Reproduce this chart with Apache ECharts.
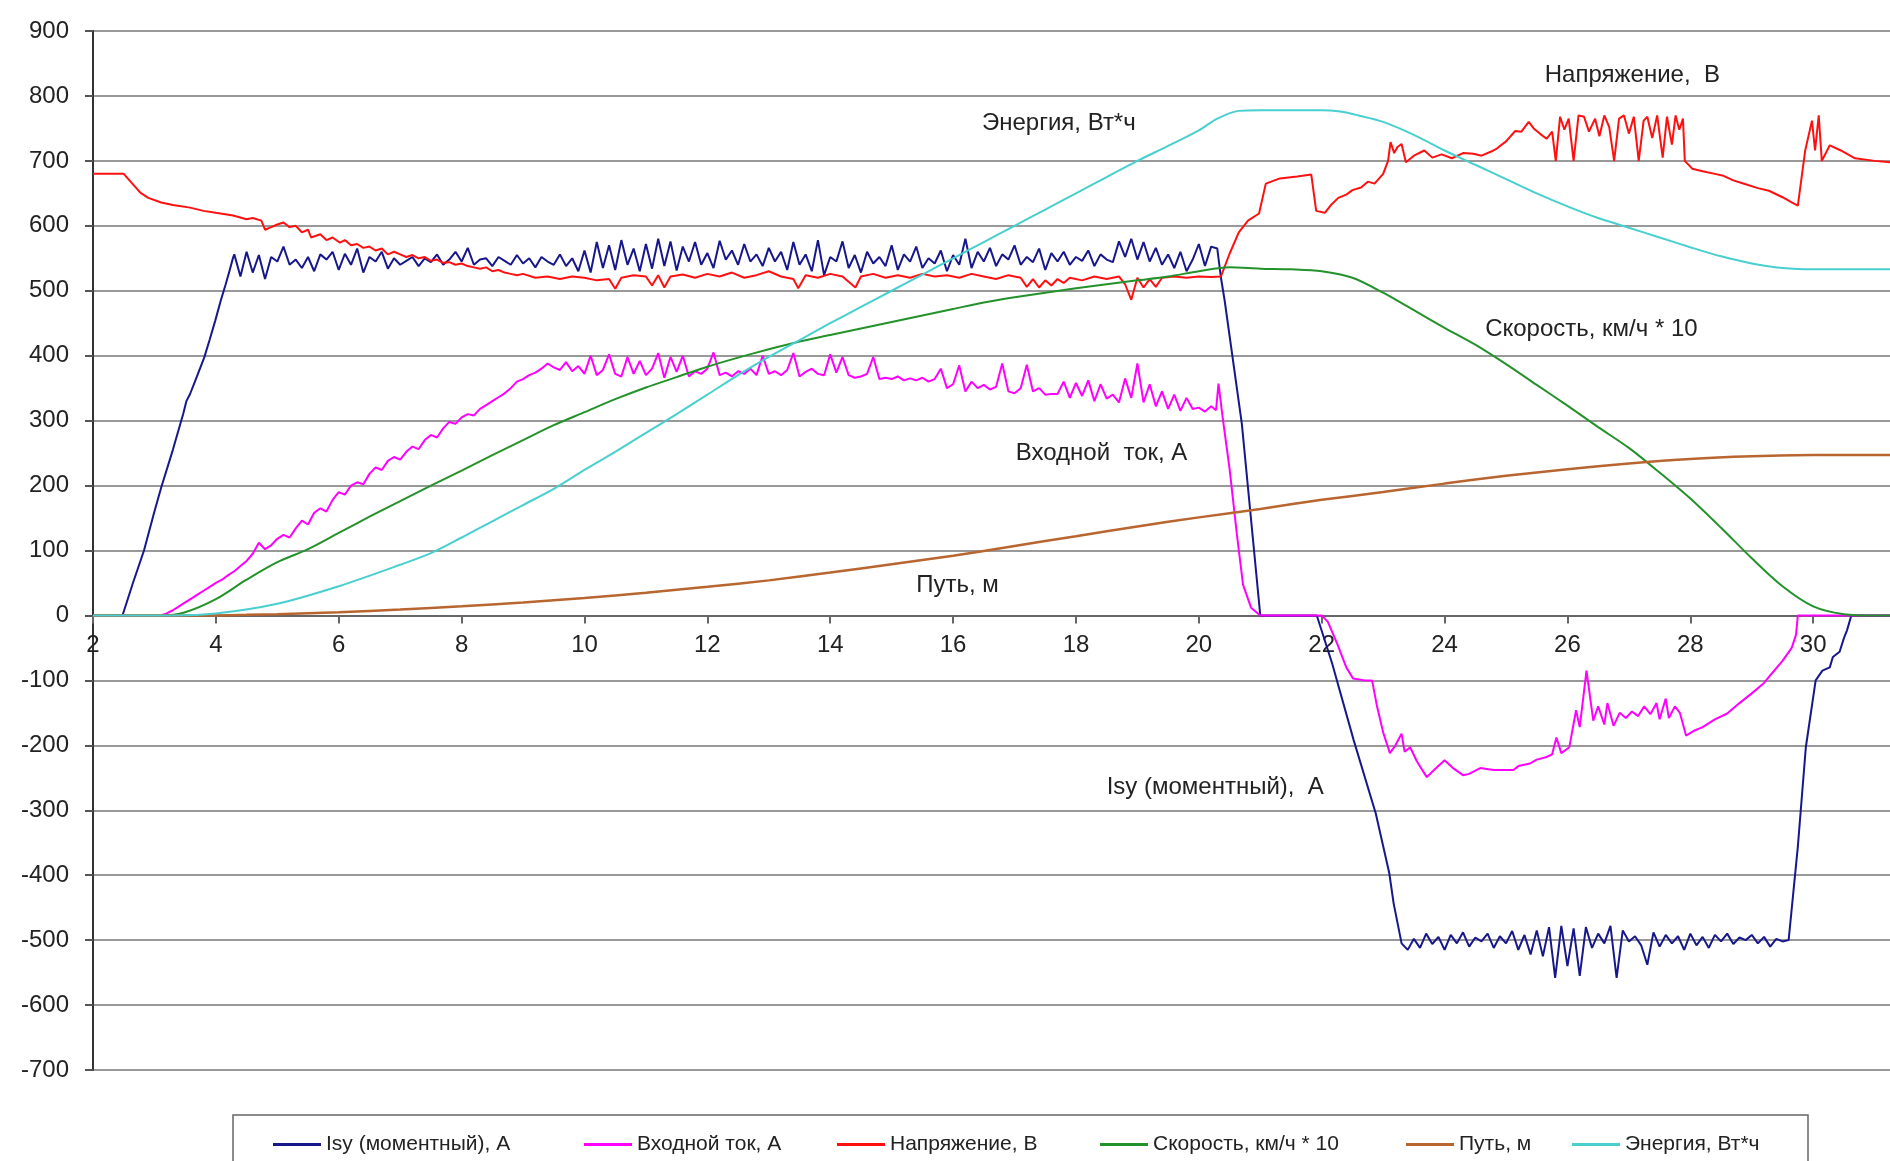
<!DOCTYPE html>
<html>
<head>
<meta charset="utf-8">
<script src="https://cdn.jsdelivr.net/npm/echarts@6/dist/echarts.min.js"></script>
<style>
  html, body { margin: 0; padding: 0; background: #fff; }
  #main { width: 1890px; height: 1161px; }
</style>
</head>
<body>
<div id="main"></div>
<script>
// time, s -> value
var isyData = [
  [2,0],[2.48,0],[2.65,50],[2.83,100],[3.0,160],[3.11,197],[3.3,255],[3.47,311],[3.52,330],[3.58,341],[3.7,370],[3.81,397],[3.9,425],[3.99,454],[4.08,485],[4.16,510],[4.22,530],[4.28,551],
  [4.3,556],[4.4,522],[4.5,560],[4.6,528],[4.7,555],[4.8,518],[4.9,552],[5.0,545],[5.1,568],[5.2,540],[5.3,548],[5.4,535],[5.5,552],[5.6,530],[5.7,556],[5.8,548],[5.9,560],[6.0,532],
  [6.1,557],[6.2,540],[6.3,565],[6.4,528],[6.5,552],[6.6,545],[6.7,560],[6.8,534],[6.9,550],[7.0,540],[7.1,546],[7.2,552],[7.3,538],[7.4,550],[7.5,544],[7.6,556],[7.7,540],[7.8,548],
  [7.9,560],[8.0,545],[8.1,566],[8.2,540],[8.3,548],[8.4,550],[8.5,538],[8.6,552],[8.7,546],[8.8,540],[8.9,555],[9.0,542],[9.1,550],[9.2,536],[9.3,552],[9.4,545],[9.5,540],[9.6,556],
  [9.7,538],[9.8,550],[9.9,530],[10.0,562],[10.1,528],[10.2,575],[10.3,535],[10.4,570],[10.5,532],[10.6,578],[10.7,540],[10.8,565],[10.9,530],[11.0,572],[11.1,534],[11.2,580],[11.3,538],
  [11.4,576],[11.5,531],[11.6,568],[11.7,545],[11.8,575],[11.9,540],[12.0,558],[12.1,535],[12.2,577],[12.3,548],[12.4,562],[12.5,540],[12.6,572],[12.7,545],[12.8,556],[12.9,538],[13.0,566],
  [13.1,545],[13.2,560],[13.3,532],[13.4,575],[13.5,540],[13.6,556],[13.7,530],[13.8,578],[13.9,524],[14.0,552],[14.1,545],[14.2,576],[14.3,535],[14.4,555],[14.5,528],[14.6,560],[14.7,542],
  [14.8,552],[14.9,538],[15.0,570],[15.1,532],[15.2,556],[15.3,545],[15.4,568],[15.5,535],[15.6,550],[15.7,542],[15.8,562],[15.9,530],[16.0,555],[16.1,540],[16.2,580],[16.3,535],[16.4,560],
  [16.5,545],[16.6,566],[16.7,538],[16.8,556],[16.9,548],[17.0,570],[17.1,540],[17.2,552],[17.3,544],[17.4,565],[17.5,532],[17.6,558],[17.7,545],[17.8,560],[17.9,540],[18.0,552],[18.1,546],
  [18.2,562],[18.3,538],[18.4,556],[18.5,548],[18.6,544],[18.7,576],[18.8,552],[18.9,580],[19.0,548],[19.1,575],[19.2,545],[19.3,566],[19.4,540],[19.5,556],[19.6,535],[19.7,560],[19.8,530],
  [19.9,548],[20.0,572],[20.1,538],[20.2,568],[20.3,565],[20.36,520],[20.42,485],[20.7,295],[21.0,0],[21.92,0],
  [22.17,-74],[22.52,-192],[22.88,-305],[23.1,-397],[23.17,-443],[23.3,-505],[23.4,-515],
  [23.5,-498],[23.6,-512],[23.7,-490],[23.8,-506],[23.9,-495],[24.0,-515],[24.1,-492],[24.2,-505],[24.3,-488],[24.4,-510],[24.5,-496],[24.6,-502],[24.7,-490],[24.8,-512],[24.9,-494],
  [25.0,-505],[25.1,-486],[25.2,-515],[25.3,-492],[25.4,-522],[25.5,-485],[25.6,-525],[25.7,-480],[25.8,-558],[25.9,-478],[26.0,-540],[26.1,-482],[26.2,-555],[26.3,-480],[26.4,-512],
  [26.5,-490],[26.6,-505],[26.7,-478],[26.8,-558],[26.9,-485],[27.0,-502],[27.1,-494],[27.2,-508],[27.3,-538],[27.4,-488],[27.5,-510],[27.6,-492],[27.7,-505],[27.8,-494],[27.9,-515],
  [28.0,-490],[28.1,-508],[28.2,-495],[28.3,-512],[28.4,-492],[28.5,-502],[28.6,-490],[28.7,-506],[28.8,-496],[28.9,-500],[29.0,-492],[29.1,-505],[29.2,-495],[29.3,-510],[29.4,-498],
  [29.5,-502],[29.6,-500],[29.75,-356],[29.88,-203],[30.04,-100],[30.15,-85],[30.27,-80],[30.32,-64],[30.43,-56],[30.5,-35],[30.55,-23],[30.62,0],[31.25,0]
];

var inputCurrentData = [
  [2,0],[3.1,0],[3.2,3],[3.3,8],[3.4,14],[3.5,20],[3.6,26],[3.7,32],[3.8,38],[3.9,44],[4.0,50],[4.1,55],[4.2,62],[4.3,68],[4.4,76],[4.5,84],[4.6,95],[4.7,112],[4.8,102],[4.9,108],
  [5.0,118],[5.1,124],[5.2,120],[5.3,134],[5.4,146],[5.5,140],[5.6,158],[5.7,165],[5.8,160],[5.9,178],[6.0,190],[6.1,186],[6.2,200],[6.3,205],[6.4,202],[6.5,218],[6.6,228],[6.7,224],
  [6.8,238],[6.9,244],[7.0,240],[7.1,252],[7.2,260],[7.3,256],[7.4,270],[7.5,278],[7.6,274],[7.7,288],[7.8,298],[7.9,295],[8.0,305],[8.1,310],[8.2,308],[8.3,318],[8.4,324],[8.5,330],
  [8.6,336],[8.7,342],[8.8,350],[8.9,360],[9.0,364],[9.1,370],[9.2,374],[9.3,380],[9.4,388],[9.5,382],[9.6,378],[9.7,390],[9.8,376],[9.9,384],
  [10.0,372],[10.1,400],[10.2,370],[10.3,378],[10.4,402],[10.5,372],[10.6,368],[10.7,398],[10.8,372],[10.9,392],[11.0,370],[11.1,380],[11.2,404],[11.3,366],[11.4,398],[11.5,375],
  [11.6,400],[11.7,368],[11.8,376],[11.9,372],[12.0,380],[12.1,405],[12.2,370],[12.3,374],[12.4,368],[12.5,376],[12.6,372],[12.7,380],[12.8,370],[12.9,400],[13.0,372],[13.1,376],
  [13.2,370],[13.3,378],[13.4,404],[13.5,368],[13.6,375],[13.7,380],[13.8,372],[13.9,370],[14.0,402],[14.1,374],[14.2,398],[14.3,370],[14.4,366],[14.5,368],[14.6,372],[14.7,398],
  [14.8,364],[14.9,366],[15.0,364],[15.1,368],[15.2,362],[15.3,365],[15.4,362],[15.5,366],[15.6,360],[15.7,364],[15.8,380],[15.9,350],[16.0,356],[16.1,385],[16.2,345],[16.3,360],
  [16.4,350],[16.5,355],[16.6,348],[16.7,352],[16.8,388],[16.9,345],[17.0,342],[17.1,350],[17.2,386],[17.3,345],[17.4,350],[17.5,340],[17.6,341],[17.7,341],[17.8,360],[17.9,335],
  [18.0,358],[18.1,338],[18.2,362],[18.3,330],[18.4,356],[18.5,334],[18.6,340],[18.7,328],[18.8,365],[18.9,335],[19.0,388],[19.1,328],[19.2,356],[19.3,322],[19.4,345],[19.5,318],
  [19.6,340],[19.7,315],[19.8,335],[19.9,318],[20.0,320],[20.1,314],[20.2,322],[20.28,316],[20.32,357],[20.39,303],[20.5,226],[20.62,124],[20.72,47],[20.85,12],[21.0,0],[22.0,0],
  [22.1,-10],[22.25,-43],[22.4,-80],[22.51,-97],[22.7,-100],[22.82,-100],[22.9,-140],[23.0,-180],[23.11,-212],[23.2,-200],[23.3,-182],[23.35,-210],[23.44,-203],[23.55,-225],[23.71,-249],
  [23.85,-236],[24.0,-223],[24.15,-236],[24.3,-246],[24.4,-244],[24.58,-235],[24.8,-238],[25.0,-238],[25.12,-238],[25.2,-232],[25.39,-228],[25.5,-222],[25.66,-218],[25.75,-214],
  [25.82,-188],[25.9,-212],[26.03,-203],[26.14,-146],[26.2,-172],[26.31,-85],[26.42,-162],[26.5,-140],[26.6,-168],[26.65,-135],[26.75,-170],[26.85,-150],[26.95,-158],[27.05,-148],
  [27.15,-155],[27.25,-140],[27.35,-152],[27.45,-135],[27.5,-160],[27.6,-128],[27.65,-158],[27.75,-140],[27.83,-150],[27.93,-185],[28.05,-178],[28.2,-172],[28.4,-160],[28.6,-151],
  [28.8,-135],[29.0,-120],[29.2,-104],[29.33,-89],[29.5,-70],[29.65,-50],[29.72,-30],[29.75,0],[31.25,0]
];

var voltageData = [
  [2,680],[2.5,680],[2.77,651],[2.9,643],[3.11,636],[3.3,632],[3.58,628],[3.8,623],[4.0,620],[4.28,616],[4.5,610],[4.6,612],[4.74,608],[4.8,594],[4.9,598],[5.0,602],[5.1,605],
  [5.2,598],[5.3,600],[5.4,590],[5.5,594],[5.55,582],[5.7,587],[5.8,578],[5.9,582],[6.02,574],[6.1,578],[6.2,570],[6.3,572],[6.4,566],[6.5,568],[6.6,562],[6.7,565],[6.8,556],
  [6.9,560],[7.0,556],[7.1,552],[7.2,555],[7.3,550],[7.4,552],[7.5,546],[7.6,548],[7.7,543],[7.8,544],[7.9,540],[8.0,542],[8.1,538],[8.2,536],[8.3,534],[8.4,536],[8.5,530],
  [8.6,532],[8.7,528],[8.8,526],[8.9,524],[9.0,526],[9.2,520],[9.4,522],[9.6,518],[9.8,522],[10.0,520],[10.2,516],[10.4,518],[10.5,503],[10.6,520],[10.8,524],[11.0,522],[11.1,508],
  [11.2,524],[11.3,505],[11.4,522],[11.6,525],[11.8,520],[12.0,526],[12.2,522],[12.4,528],[12.6,520],[12.8,524],[13.0,530],[13.2,522],[13.4,518],[13.48,504],[13.6,524],[13.8,520],
  [14.0,526],[14.2,522],[14.41,505],[14.5,522],[14.7,526],[14.9,520],[15.1,524],[15.3,520],[15.5,526],[15.7,522],[15.9,524],[16.1,520],[16.3,526],[16.5,522],[16.7,518],[16.9,524],
  [17.1,520],[17.2,506],[17.3,518],[17.4,505],[17.5,516],[17.6,508],[17.7,518],[17.8,512],[17.9,520],[18.1,516],[18.3,522],[18.5,518],[18.7,522],[18.8,510],[18.9,486],[19.0,520],
  [19.1,505],[19.2,518],[19.3,506],[19.4,520],[19.6,522],[19.8,520],[20.0,522],[20.2,521],[20.36,522],[20.5,557],[20.65,590],[20.8,608],[20.98,619],[21.09,665],[21.32,673],
  [21.6,676],[21.83,679],[21.91,623],[22.05,620],[22.15,632],[22.27,643],[22.4,648],[22.5,655],[22.64,659],[22.75,668],[22.86,665],[23.0,680],[23.08,700],[23.12,729],[23.18,712],
  [23.23,721],[23.3,726],[23.37,698],[23.5,708],[23.67,716],[23.8,705],[23.95,710],[24.12,704],[24.3,712],[24.47,711],[24.6,708],[24.75,714],[24.85,719],[25.0,730],[25.15,746],
  [25.25,745],[25.37,760],[25.45,750],[25.55,742],[25.66,734],[25.75,745],[25.81,700],[25.88,768],[25.95,748],[26.02,765],[26.1,700],[26.18,770],[26.27,768],[26.35,745],[26.45,765],
  [26.52,738],[26.6,770],[26.68,752],[26.76,700],[26.84,765],[26.92,770],[27.0,742],[27.08,768],[27.16,700],[27.24,762],[27.3,768],[27.38,735],[27.46,770],[27.55,705],[27.62,768],
  [27.7,725],[27.76,770],[27.82,748],[27.88,765],[27.91,700],[28.03,688],[28.2,684],[28.4,680],[28.54,677],[28.7,670],[28.9,664],[29.1,658],[29.28,654],[29.5,644],[29.65,636],
  [29.75,631],[29.87,716],[29.98,762],[30.03,716],[30.09,770],[30.14,700],[30.27,724],[30.45,716],[30.68,704],[31.0,700],[31.25,698]
];

var speedData = [
  [2,0],[3.1,0],[3.5,5],[4,25],[4.5,55],[5,82],[5.5,102],[6,127],[6.5,152],[7,176],[7.5,200],[8,223],[8.5,247],[9,270],[9.5,293],[10,313],[10.5,333],[11,351],[11.5,367],
  [12,383],[12.5,397],[13,410],[13.5,422],[14,432],[14.5,442],[15,452],[15.5,462],[16,472],[16.5,482],[17,490],[17.5,497],[18,504],[18.5,510],[19,516],[19.5,522],[20,530],
  [20.5,536],[21,534],[21.5,533],[22,530],[22.5,520],[23,497],[23.5,470],[24,443],[24.5,417],[25,387],[25.5,355],[26,323],[26.5,290],[27,258],[27.5,220],[28,180],[28.5,135],
  [29,88],[29.5,45],[30,14],[30.5,2],[31,0],[31.25,0]
];

var distanceData = [
  [2,0],[3.5,0],[4.5,1],[5,2],[6,5],[7,9],[8,14],[9,20],[10,27],[11,35],[12,44],[13,54],[14,66],[15,79],[16,92],[17,107],[18,122],[19,137],[20,151],[21,164],[22,178],
  [23,190],[24,203],[25,215],[26,225],[27,234],[28,241],[29,245],[30,247],[31.25,247]
];

var energyData = [
  [2,0],[3.3,0],[4,3],[5,18],[6,45],[7,78],[7.5,96],[8,120],[8.5,145],[9,170],[9.5,195],[10,224],[10.5,252],[11,281],[11.5,310],[12,340],[12.5,370],[13,398],[13.5,424],
  [14,450],[14.5,475],[15,500],[15.5,525],[16,550],[16.5,575],[17,600],[17.5,625],[18,650],[18.5,675],[19,700],[19.5,723],[20,747],[20.3,765],[20.65,777],[21,778],[22,778],
  [22.3,776],[22.6,770],[23,760],[23.5,740],[24,716],[24.5,694],[25,672],[25.5,650],[26,630],[26.5,612],[27,597],[27.5,582],[28,567],[28.5,553],[29,542],[29.5,535],[30,533],[31.25,533]
];

var seriesNames = ['Isy (моментный), А', 'Входной ток, А', 'Напряжение, В', 'Скорость, км/ч * 10', 'Путь, м', 'Энергия, Вт*ч'];
var seriesColors = ['#17178c', '#ff00ff', '#ff1010', '#23922a', '#b9652f', '#48cfcf'];

// in-plot captions: [text, time, value]
var captions = [
  ['Напряжение,  В', 25.63, 831],
  ['Энергия, Вт*ч', 16.47, 757],
  ['Скорость, км/ч * 10', 24.66, 441],
  ['Входной  ток, А', 17.02, 249],
  ['Путь, м', 15.4, 46],
  ['Isy (моментный),  А', 18.5, -265]
];

var yMin = -700, yMax = 900;
var FONT = '"Liberation Sans", Arial, sans-serif';

var gridTop = 31, gridBottom = 91, H = 1161;
var gridHeight = H - gridTop - gridBottom;
// move the x axis up to the value 0 line
var zeroShift = (yMax / (yMax - yMin)) * gridHeight - gridHeight;

var chart = echarts.init(document.getElementById('main'));
var allData = [isyData, inputCurrentData, voltageData, speedData, distanceData, energyData];
var legendLeft = [268, 579, 832, 1095, 1401, 1567];

var series = allData.map(function (d, i) {
  return {
    name: seriesNames[i],
    type: 'line',
    data: d,
    symbol: 'none',
    smooth: i >= 3 ? 0.3 : false,
    lineStyle: { color: seriesColors[i], width: i === 4 ? 2.5 : 2 },
    itemStyle: { color: seriesColors[i] }
  };
});

var legends = seriesNames.map(function (n, i) {
  return {
    data: [n],
    left: legendLeft[i],
    top: 1129,
    icon: 'rect',
    itemWidth: 48,
    itemHeight: 3,
    itemGap: 8,
    textStyle: { fontSize: 21, color: '#222', fontFamily: FONT }
  };
});

var option = {
  backgroundColor: '#fff',
  animation: false,
  grid: { left: 93, right: 0, top: gridTop, bottom: gridBottom, outerBoundsMode: 'none' },
  legend: legends,
  xAxis: {
    type: 'value',
    min: 2,
    max: 31.25,
    interval: 2,
    offset: zeroShift,
    axisLine: { onZero: false, lineStyle: { color: '#666', width: 2 } },
    axisTick: { show: true, length: 8, lineStyle: { color: '#666', width: 2 } },
    axisLabel: { margin: 18, fontSize: 24, color: '#222', fontFamily: FONT, showMaxLabel: false },
    splitLine: { show: false }
  },
  yAxis: {
    type: 'value',
    min: yMin,
    max: yMax,
    interval: 100,
    axisLine: { show: true, lineStyle: { color: '#333', width: 2 } },
    axisTick: { show: true, length: 8, lineStyle: { color: '#555', width: 2 } },
    axisLabel: { margin: 24, fontSize: 24, color: '#222', fontFamily: FONT },
    splitLine: { lineStyle: { color: '#777', width: 1.5 } }
  },
  series: series
};
chart.setOption(option);

var graphics = captions.map(function (c) {
  var p = chart.convertToPixel({ gridIndex: 0 }, [c[1], c[2]]);
  return {
    type: 'text',
    x: p[0],
    y: p[1],
    style: { text: c[0], fill: '#222', font: '24px ' + FONT, verticalAlign: 'middle', align: 'left' }
  };
});
graphics.push({
  type: 'rect',
  shape: { x: 233, y: 1115, width: 1575, height: 80 },
  style: { fill: 'none', stroke: '#666', lineWidth: 1.5 }
});
chart.setOption({ graphic: graphics });
</script>
</body>
</html>
